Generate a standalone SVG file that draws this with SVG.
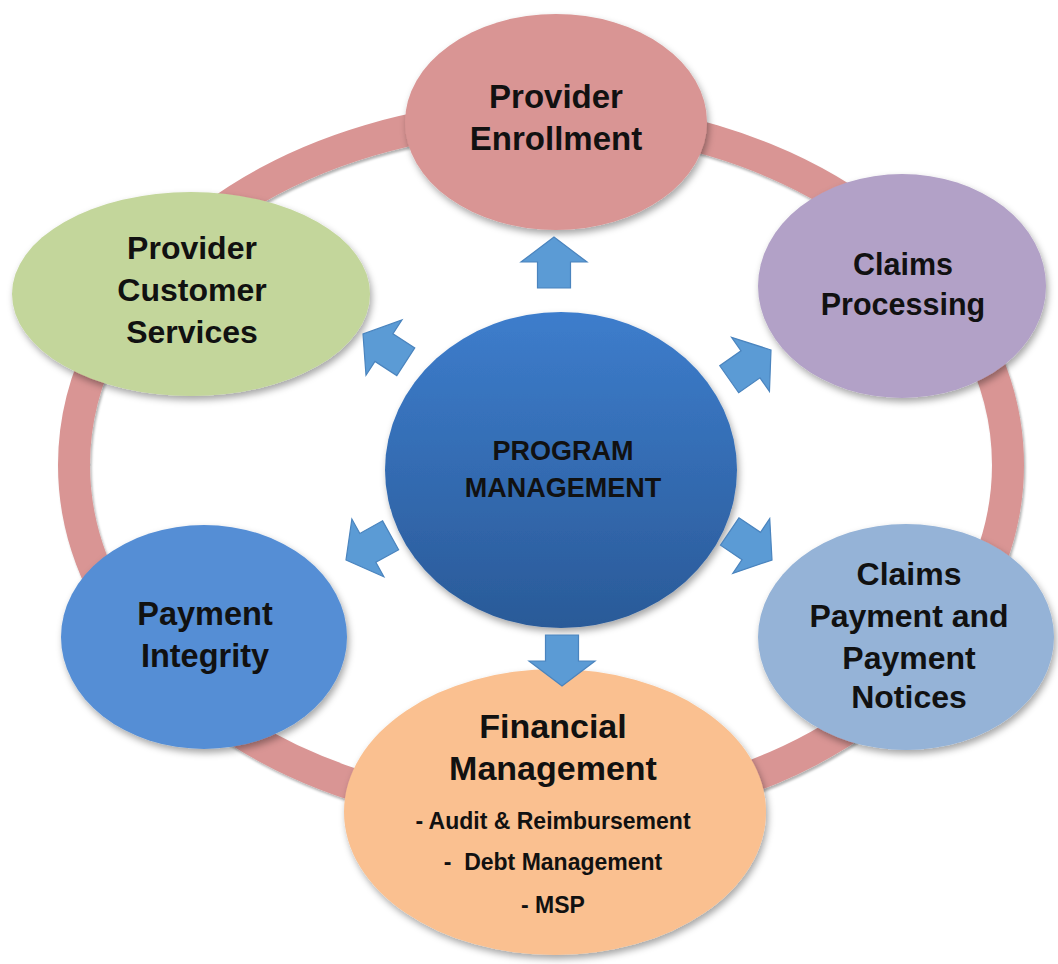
<svg xmlns="http://www.w3.org/2000/svg" width="1058" height="964" viewBox="0 0 1058 964">
<style>
.lbl{font-family:"Liberation Sans",Arial,sans-serif;font-weight:bold;fill:#111;text-anchor:middle}
.arrow{fill:#5B9BD5;stroke:#4A84BE;stroke-width:1.2;stroke-linejoin:miter}
</style>
<defs>
<filter id="sh" x="-20%" y="-20%" width="140%" height="140%">
<feDropShadow dx="2" dy="4" stdDeviation="3.5" flood-color="#000" flood-opacity="0.35"/>
</filter>
<filter id="rsh" x="-10%" y="-10%" width="120%" height="120%">
<feDropShadow dx="1.5" dy="2.5" stdDeviation="1.2" flood-color="#000" flood-opacity="0.3"/>
</filter>
<linearGradient id="pmg" x1="0" y1="0" x2="0" y2="1">
<stop offset="0" stop-color="#3D7DCC"/>
<stop offset="1" stop-color="#2A5A98"/>
</linearGradient>
<path id="arr" d="M0,0 L-25,-33 L-25,-16.5 L-51,-16.5 L-51,16.5 L-25,16.5 L-25,33 Z"/>
</defs>
<rect width="1058" height="964" fill="#fff"/>
<g id="ring">
<ellipse cx="541" cy="465" rx="467" ry="349" fill="none" stroke="#D99594" stroke-width="32" filter="url(#rsh)"/>
</g>
<g id="provider-enrollment">
<ellipse cx="556" cy="122" rx="151" ry="108" fill="#D99594" filter="url(#sh)"/>
<text class="lbl" font-size="33" x="556" y="108">Provider</text>
<text class="lbl" font-size="33" x="556" y="150">Enrollment</text>
</g>
<g id="claims-processing">
<ellipse cx="902" cy="286" rx="144" ry="112" fill="#B2A1C7" filter="url(#sh)"/>
<text class="lbl" font-size="30.5" x="903" y="275">Claims</text>
<text class="lbl" font-size="30.5" x="903" y="315">Processing</text>
</g>
<g id="provider-customer-services">
<ellipse cx="191" cy="294" rx="179" ry="102" fill="#C3D69B" filter="url(#sh)"/>
<text class="lbl" font-size="32" x="192" y="259">Provider</text>
<text class="lbl" font-size="32" x="192" y="301">Customer</text>
<text class="lbl" font-size="32" x="192" y="343">Services</text>
</g>
<g id="payment-integrity">
<ellipse cx="204" cy="637" rx="143" ry="112" fill="#558ED5" filter="url(#sh)"/>
<text class="lbl" font-size="32.5" x="205" y="625">Payment</text>
<text class="lbl" font-size="32.5" x="205" y="667">Integrity</text>
</g>
<g id="claims-payment-notices">
<ellipse cx="906" cy="637" rx="148" ry="113" fill="#95B3D7" filter="url(#sh)"/>
<text class="lbl" font-size="32" x="909" y="585">Claims</text>
<text class="lbl" font-size="32" x="909" y="627">Payment and</text>
<text class="lbl" font-size="32" x="909" y="669">Payment</text>
<text class="lbl" font-size="32" x="909" y="708">Notices</text>
</g>
<g id="financial-management">
<ellipse cx="555" cy="812" rx="211" ry="143" fill="#FAC090" filter="url(#sh)"/>
<text class="lbl" font-size="34" x="553" y="738">Financial</text>
<text class="lbl" font-size="34" x="553" y="780">Management</text>
<text class="lbl" font-size="23" x="553" y="829">- Audit &amp; Reimbursement</text>
<text class="lbl" font-size="23" x="553" y="870" xml:space="preserve">-  Debt Management</text>
<text class="lbl" font-size="23" x="553" y="913">- MSP</text>
</g>
<g id="program-management">
<ellipse cx="561" cy="470" rx="176" ry="158" fill="url(#pmg)" filter="url(#sh)"/>
<text class="lbl" font-size="27" x="563" y="460">PROGRAM</text>
<text class="lbl" font-size="27" x="563" y="497">MANAGEMENT</text>
</g>
<g id="connectors">
<use href="#arr" class="arrow" transform="translate(554,237) rotate(-90)"/>
<use href="#arr" class="arrow" transform="translate(562,686) rotate(90)"/>
<use href="#arr" class="arrow" transform="translate(363,334) rotate(213)"/>
<use href="#arr" class="arrow" transform="translate(771,350) rotate(-35)"/>
<use href="#arr" class="arrow" transform="translate(346,560) rotate(151)"/>
<use href="#arr" class="arrow" transform="translate(772,560) rotate(34)"/>
</g>
</svg>
